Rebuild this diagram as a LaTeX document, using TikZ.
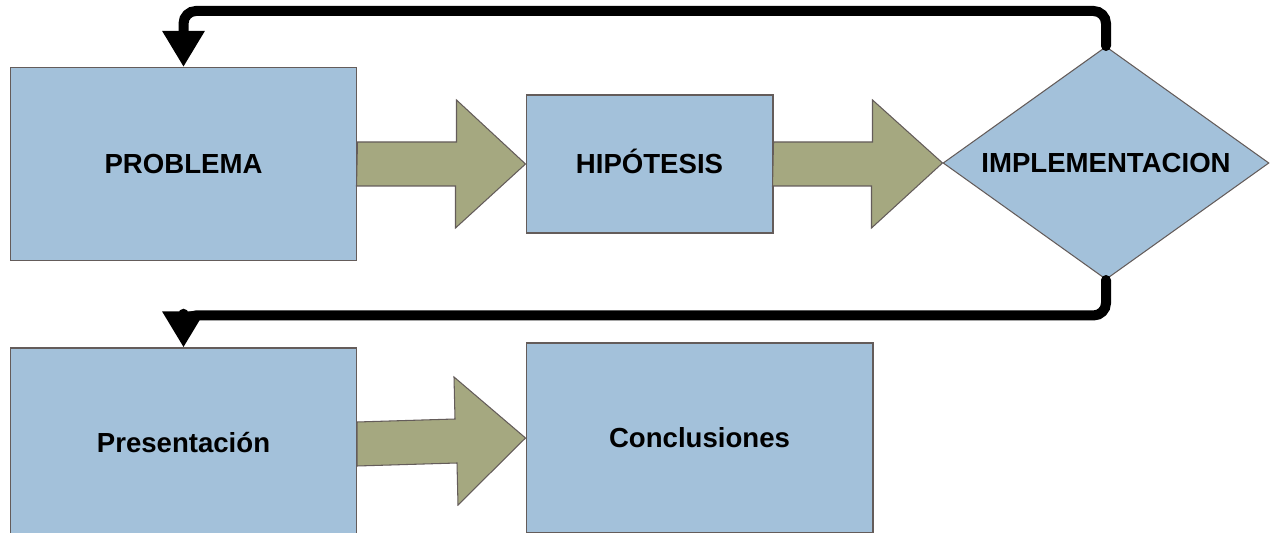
\documentclass[tikz,border=0pt]{standalone}
\usepackage{fontspec}
\setmainfont{Liberation Sans}
\usetikzlibrary{shapes.geometric,arrows.meta,calc}
\definecolor{boxblue}{RGB}{163,193,218}
\definecolor{boxline}{RGB}{100,92,90}
\definecolor{arrowgreen}{RGB}{165,168,128}

\begin{document}
\begin{tikzpicture}[x=0.02cm,y=-0.02cm]
\tikzstyle{main}=[rectangle, draw=boxline, fill=boxblue, line width=0.6pt, inner sep=0pt, text height=11.3pt, text depth=0pt, font=\bfseries\fontsize{15.7}{19}\selectfont]
\tikzstyle{decision}=[main, diamond, aspect=1.42, minimum width=6.52cm, minimum height=4.66cm]
\tikzstyle{fat}=[draw=boxline, fill=arrowgreen, line width=0.6pt]
\tikzstyle{back}=[-{Triangle[width=8mm,length=7.2mm]}, line width=0.2cm, rounded corners=0.25cm, line cap=round]
  \clip (0,0) rectangle (1274,533);
  \node[main, minimum width=6.94cm, minimum height=3.86cm] (P) at (183.5,164) {PROBLEMA};
  \node[main, minimum width=4.94cm, minimum height=2.76cm] (H) at (649.5,164) {HIPÓTESIS};
  \node[decision] (I) at (1106,163) {IMPLEMENTACION};
  \node[main, minimum width=6.94cm, minimum height=3.8cm] (Pr) at (183.5,443) {Presentación};
  \node[main, minimum width=6.94cm, minimum height=3.8cm] (C) at (699.5,438) {Conclusiones};
  % block arrows
  \draw[fat] (P.east) ++(0,-22) -- ++(99,0) -- ++(0,-42) -- (H.west)
        -- ++(-70,64) -- ++(0,-42) -- ++(-99,0) -- cycle;
  \draw[fat] (H.east) ++(0,-22) -- ++(99,0) -- ++(0,-42) -- (I.west)
        -- ++(-71,65) -- ++(0,-42) -- ++(-99,0) -- cycle;
  \draw[fat] (357,422) -- (455,419) -- (454,377) -- (C.west)
        -- (458,505) -- (457,463) -- (357,466) -- cycle;
  % feedback lines
  \draw[back] (I.north) |- ($(P.north)+(0,-56)$) -- (P.north);
  \draw[back] (I.south) |- ($(Pr.north)+(0,-32)$) -- (Pr.north);
\end{tikzpicture}
\end{document}
